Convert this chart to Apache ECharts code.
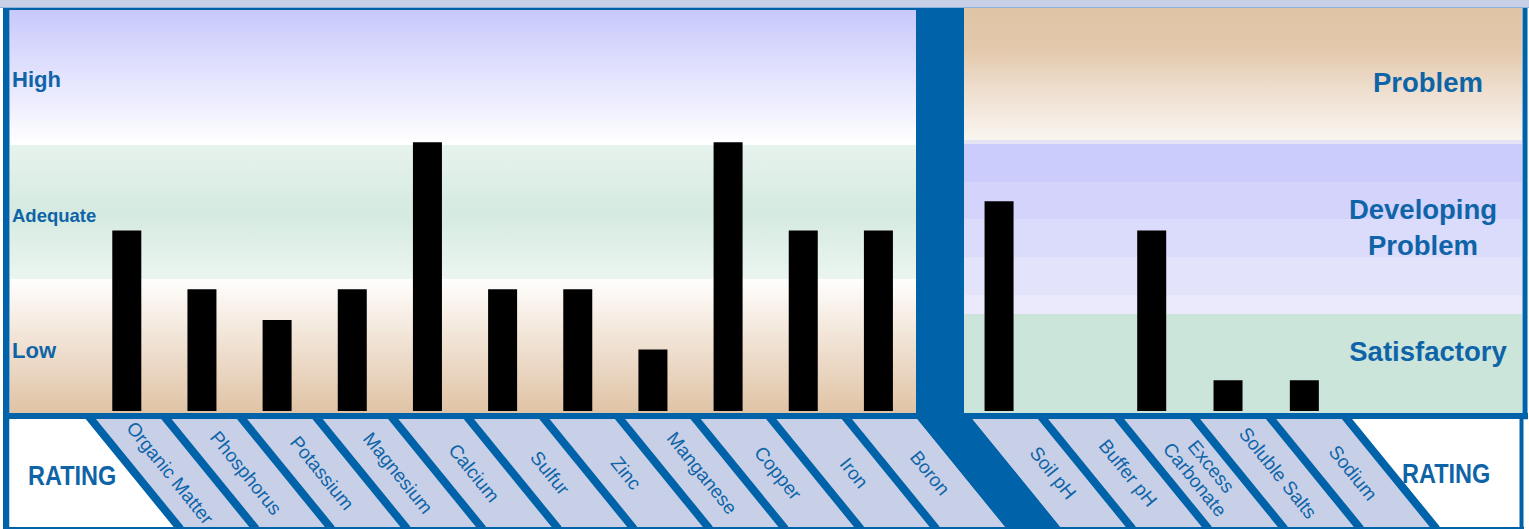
<!DOCTYPE html>
<html><head><meta charset="utf-8">
<script src="https://cdn.jsdelivr.net/npm/echarts@6/dist/echarts.min.js"></script>
<style>html,body{margin:0;padding:0;background:#fff}#c{width:1529px;height:529px}</style>
</head><body><div id="c"></div>
<script>
// ---- data ----
const nutrientNames = ['Organic Matter','Phosphorus','Potassium','Magnesium','Calcium','Sulfur','Zinc','Manganese','Copper','Iron','Boron'];
const nutrientRatings = [1.35, 0.91, 0.68, 0.91, 2.01, 0.91, 0.91, 0.46, 2.01, 1.35, 1.35];
const soilNames = ['Soil pH','Buffer pH','Excess Carbonate','Soluble Salts','Sodium'];
const soilRatings = [1.57, 0, 1.35, 0.23, 0.23];
const nutrientBandLabels = ['High','Adequate','Low'];
const soilBandLabels = ['Problem','Developing\nProblem','Satisfactory'];
const ratingTitle = 'RATING';

// ---- styles / layout ----
const BLUE = '#0062a8';
const LIGHT = '#c8d0e8';
const TXT = '#0f64a8';
const FONT = '"Liberation Sans", Arial, sans-serif';
const STRIP_TOP = 419, STRIP_BOT = 527, SLANT = 88 / 108;
const leftBounds = [];
for (let k = 0; k <= nutrientNames.length; k++) leftBounds.push(90.8 + 75.6 * k);
const rightBounds = [];
for (let k = 0; k <= soilNames.length; k++) rightBounds.push(967 + 76 * k);

const lg = (stops) => ({type: 'linear', x: 0, y: 0, x2: 0, y2: 1, colorStops: stops.map(([o, c]) => ({offset: o, color: c}))});
const rect = (x, y, w, h, fill) => ({type: 'rect', shape: {x, y, width: w, height: h}, style: {fill}, silent: true});

const g = [];
// top strip
g.push(rect(0, 0, 1529, 7, LIGHT));
g.push(rect(0, 7, 1529, 1, '#8db3da'));
// left panel bands
g.push(rect(10, 10, 906, 130, lg([[0, '#c8c8fc'], [1, '#fdfdff']])));
g.push(rect(10, 140, 906, 5, '#ffffff'));
g.push(rect(10, 145, 906, 134, lg([[0, '#e7f3ed'], [0.5, '#d5eae0'], [1, '#ebf5f0']])));
g.push(rect(10, 279, 906, 134, lg([[0, '#fffefd'], [1, '#e0c3a5']])));
// right panel bands
g.push(rect(964, 8, 558, 132, lg([[0, '#e0c4a6'], [0.3, '#e3c8ab'], [0.65, '#efe0d1'], [1, '#faf5f0']])));
g.push(rect(964, 140, 558, 4, '#e4e4f6'));
[[144, 182, '#cbcbfc'], [182, 219, '#d3d3fc'], [219, 257, '#dbdbfc'], [257, 295, '#e3e3fc'], [295, 314, '#eaeafc']]
  .forEach(([a, b, c]) => g.push(rect(964, a, 558, b - a, c)));
g.push(rect(964, 314, 558, 99, '#cce5db'));
// frame
g.push(rect(916, 8, 48, 405, BLUE));
g.push(rect(3, 8, 913, 2, BLUE));
g.push(rect(3, 8, 6.5, 521, BLUE));
g.push(rect(1522.5, 8, 5, 411, BLUE));
g.push(rect(3, 413, 1525, 6.3, BLUE));
g.push(rect(9.5, STRIP_TOP, 1510, STRIP_BOT - STRIP_TOP, '#ffffff'));
g.push(rect(1519.5, 413, 4, 116, BLUE));
g.push(rect(3, STRIP_BOT, 1521, 2, BLUE));
// slanted label cells
const dx = (STRIP_BOT - STRIP_TOP) * SLANT;
const L0 = leftBounds[0], R5 = rightBounds[rightBounds.length - 1];
g.push({type: 'polygon', silent: true, shape: {points: [[L0, STRIP_TOP], [R5, STRIP_TOP], [R5 + dx, STRIP_BOT], [L0 + dx, STRIP_BOT]]}, style: {fill: LIGHT}});
const wl = leftBounds[leftBounds.length - 1] - 4.9, wr = rightBounds[0] + 4.9;
g.push({type: 'polygon', silent: true, shape: {points: [[wl, STRIP_TOP], [wr, STRIP_TOP], [wr + dx, STRIP_BOT], [wl + dx, STRIP_BOT]]}, style: {fill: BLUE}});
leftBounds.concat(rightBounds).forEach(b => {
  const y1 = STRIP_TOP - 3, y2 = STRIP_BOT + 2;
  g.push({type: 'line', silent: true, shape: {x1: b + (y1 - STRIP_TOP) * SLANT, y1, x2: b + (y2 - STRIP_TOP) * SLANT, y2}, style: {stroke: BLUE, lineWidth: 8}});
});
// band labels
const txt = (x, y, text, size, align, extra) => Object.assign({type: 'text', x, y, silent: true,
  style: {text, font: 'bold ' + size + 'px ' + FONT, fill: TXT, align, verticalAlign: 'middle', lineHeight: 36.5}}, extra || {});
g.push(txt(12, 79, nutrientBandLabels[0], 22, 'left'));
g.push(txt(12, 215.5, nutrientBandLabels[1], 18.5, 'left'));
g.push(txt(12, 350.5, nutrientBandLabels[2], 22, 'left'));
g.push(txt(1428, 82.5, soilBandLabels[0], 27.5, 'center'));
g.push(txt(1423, 227.3, soilBandLabels[1], 27.5, 'center'));
g.push(txt(1428, 351.5, soilBandLabels[2], 27.5, 'center'));
g.push(txt(28, 475.5, ratingTitle, 28, 'left', {scaleX: 0.84}));
g.push(txt(1402, 473.5, ratingTitle, 28, 'left', {scaleX: 0.84}));

const labelAxis = (gridIndex, data) => ({
  type: 'category', gridIndex, data, z: 10,
  axisLine: {show: false}, axisTick: {show: false}, splitLine: {show: false},
  axisLabel: {interval: 0, rotate: -51, margin: 0, align: 'center', verticalAlign: 'middle', hideOverlap: false,
    color: TXT, fontSize: 19, fontFamily: FONT, lineHeight: 21,
    formatter: v => v === 'Excess Carbonate' ? 'Excess\nCarbonate' : v}
});

const chart = echarts.init(document.getElementById('c'), null, {renderer: 'svg', width: 1529, height: 529});
chart.setOption({
  animation: false,
  backgroundColor: '#ffffff',
  graphic: {elements: g},
  grid: [
    {left: 89.2, top: 10, width: 826.8, height: 401, outerBoundsMode: 'none'},
    {left: 960.9, top: 10, width: 381.6, height: 401, outerBoundsMode: 'none'},
    {left: 132, top: 468, width: 836, height: 5, outerBoundsMode: 'none'},
    {left: 1015.5, top: 468, width: 375, height: 5, outerBoundsMode: 'none'}
  ],
  xAxis: [
    {type: 'category', gridIndex: 0, data: nutrientNames, show: false},
    {type: 'category', gridIndex: 1, data: soilNames, show: false},
    labelAxis(2, nutrientNames),
    labelAxis(3, soilNames)
  ],
  yAxis: [
    {type: 'value', gridIndex: 0, min: 0, max: 3, show: false},
    {type: 'value', gridIndex: 1, min: 0, max: 3, show: false},
    {type: 'value', gridIndex: 2, show: false},
    {type: 'value', gridIndex: 3, show: false}
  ],
  series: [
    {type: 'bar', xAxisIndex: 0, yAxisIndex: 0, data: nutrientRatings, barWidth: 29, itemStyle: {color: '#000000'}, silent: true},
    {type: 'bar', xAxisIndex: 1, yAxisIndex: 1, data: soilRatings, barWidth: 29, itemStyle: {color: '#000000'}, silent: true}
  ]
});
</script></body></html>
